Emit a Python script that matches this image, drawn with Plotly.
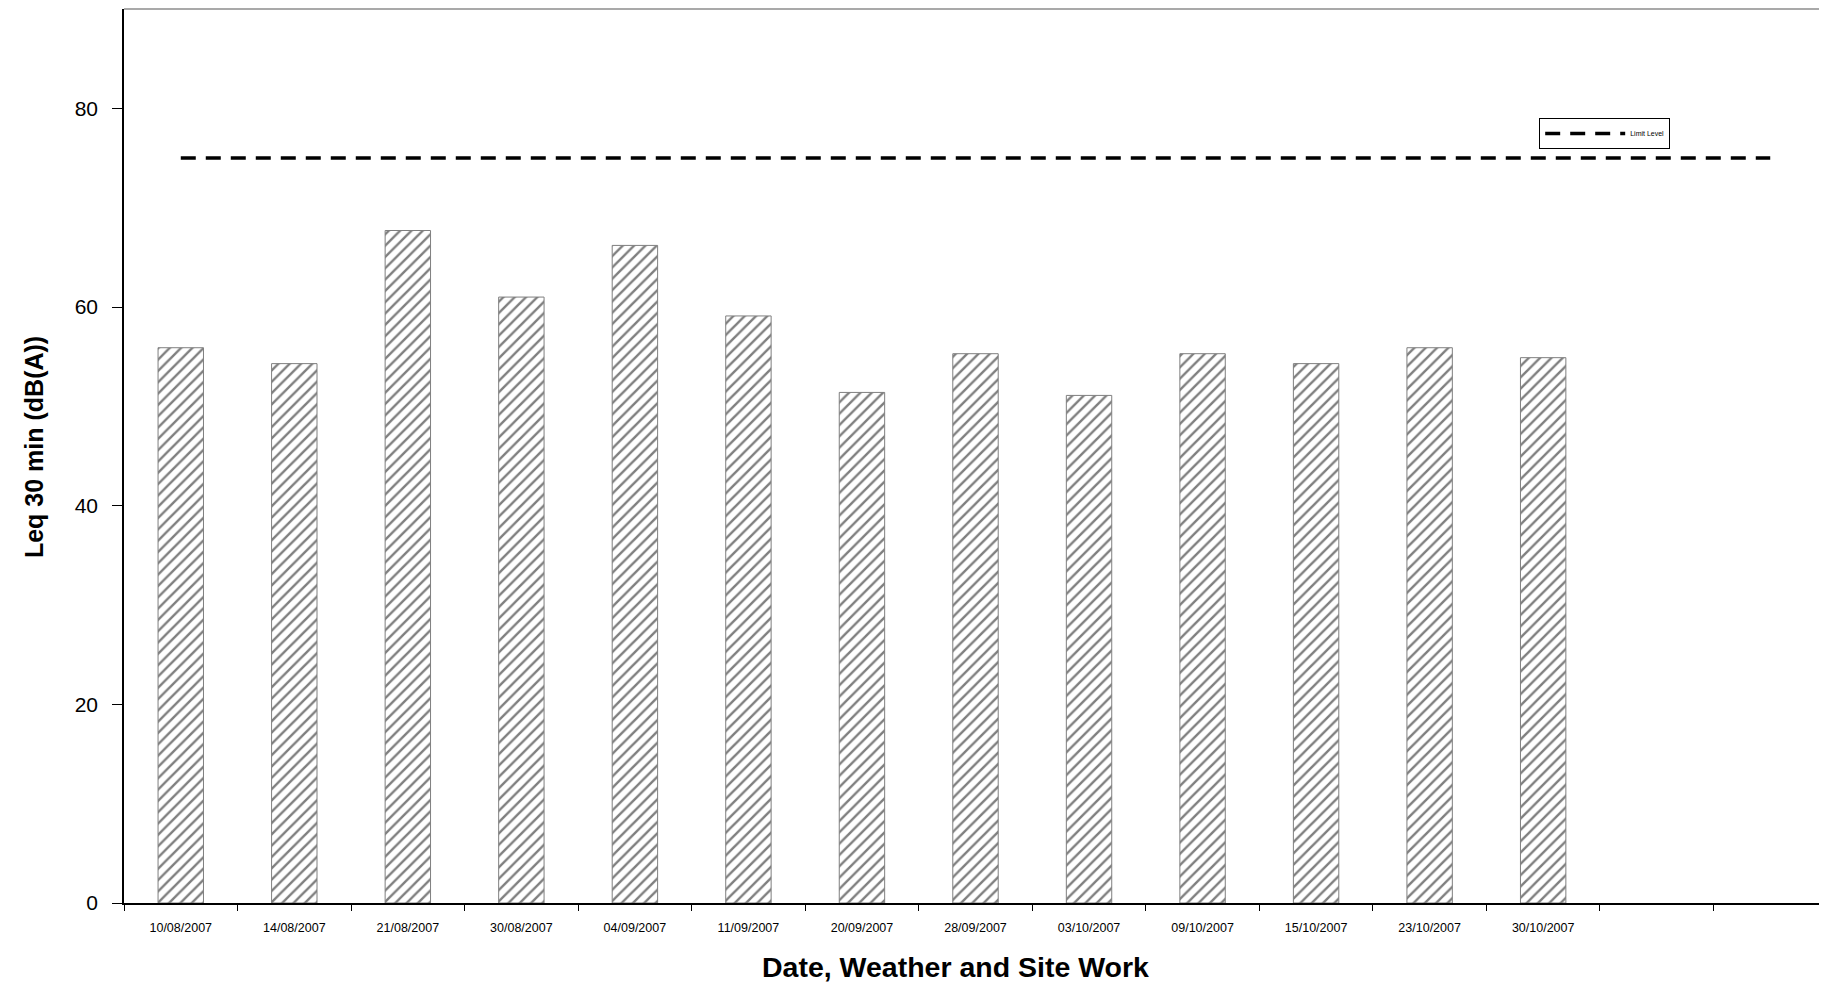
import plotly.graph_objects as go

dates = ["10/08/2007", "14/08/2007", "21/08/2007", "30/08/2007", "04/09/2007",
         "11/09/2007", "20/09/2007", "28/09/2007", "03/10/2007", "09/10/2007",
         "15/10/2007", "23/10/2007", "30/10/2007"]
blank_slots = [" ", "  "]
categories = dates + blank_slots
leq_values = [55.9, 54.3, 67.7, 61.0, 66.2, 59.1, 51.4, 55.3, 51.1, 55.3, 54.3, 55.9, 54.9]
limit_level = [75] * len(categories)
y_ticks = [0, 20, 40, 60, 80]

fig = go.Figure()
fig.add_trace(go.Bar(
    x=dates, y=leq_values, showlegend=False, name="Leq",
    marker=dict(color="white", line=dict(color="#7f7f7f", width=1),
                pattern=dict(shape="/", fgcolor="black", bgcolor="white",
                             size=8, solidity=0.3)),
))
fig.add_trace(go.Scatter(
    x=categories, y=limit_level, mode="lines", name="Limit Level",
    line=dict(color="black", width=3.5, dash="15px,10px"),
))

# body has an 8px default margin; margins compensate so the plot area lands where the reference's does
fig.update_layout(
    width=1827, height=989,
    margin=dict(l=116, r=8, t=1, b=94, autoexpand=False),
    paper_bgcolor="white", plot_bgcolor="white",
    bargap=0.6,
    font=dict(family="Liberation Sans, Arial", color="black"),
    legend=dict(x=0.831, y=0.878, xanchor="left", yanchor="top",
                bordercolor="black", borderwidth=1, bgcolor="white",
                font=dict(size=7),
                itemwidth=80, tracegroupgap=0),
    xaxis=dict(type="category", categoryorder="array", categoryarray=categories,
               range=[-0.5, len(categories) - 0.5],
               showline=True, linecolor="black", linewidth=1.5,
               ticks="outside", ticklen=6, tickcolor="black", tickson="boundaries",
               showgrid=False, zeroline=False,
               tickfont=dict(size=12.5), ticklabelstandoff=12),
    yaxis=dict(range=[0, 90], tickvals=y_ticks,
               showline=True, linecolor="black", linewidth=1.5,
               ticks="outside", ticklen=10, tickcolor="black",
               showgrid=False, zeroline=False,
               tickfont=dict(size=21), ticklabelstandoff=10),
    annotations=[
        dict(text="<b>Date, Weather and Site Work</b>", xref="paper", yref="paper",
             x=0.488, y=0, yshift=-64, xanchor="center", yanchor="middle",
             showarrow=False, font=dict(size=28.5)),
        dict(text="<b>Leq 30 min (dB(A))</b>", xref="paper", yref="paper",
             x=0, xshift=-90, y=0.51, xanchor="center", yanchor="middle",
             textangle=-90, showarrow=False, font=dict(size=25)),
    ],
    shapes=[dict(type="line", xref="paper", yref="paper", x0=0, x1=1, y0=1, y1=1,
                 line=dict(color="#8c8c8c", width=1.5))],
)

fig.write_html("out.html")
